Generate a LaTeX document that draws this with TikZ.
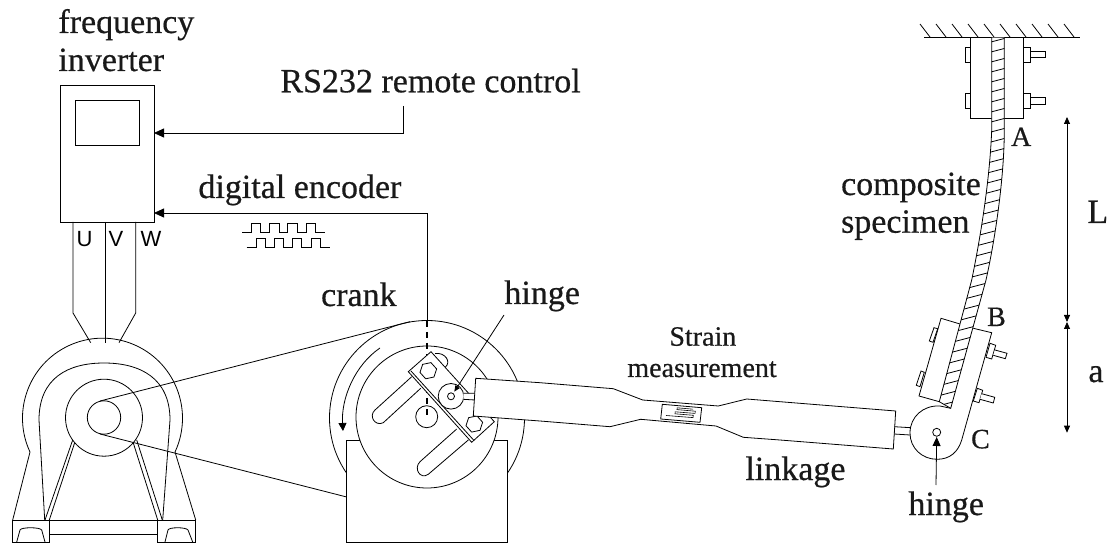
\documentclass[tikz,border=0pt]{standalone}
\usepackage{fontspec}
\setmainfont{Liberation Serif}
\newfontfamily\lblfont{Liberation Serif}[FakeBold=0.5]
\newfontfamily\uvwfont{Liberation Sans}
\usetikzlibrary{arrows.meta,shapes.geometric}

\begin{document}
\begin{tikzpicture}[
    x=1pt,y=-1pt,
    line width=0.8pt,
    >={Triangle[length=10pt,width=9pt]},
    lab/.style={anchor=base west,inner sep=0pt,text=black!90,font=\lblfont\fontsize{34}{34}\selectfont},
    midlab/.style={anchor=base west,inner sep=0pt,text=black!90,font=\lblfont\fontsize{28}{28}\selectfont},
    letter/.style={anchor=base,inner sep=0pt,font=\uvwfont\fontsize{22}{22}\selectfont},
    panel/.style={draw,fill=white,inner sep=0pt,outer sep=0pt},
    hexbolt/.style={draw,fill=white,regular polygon,regular polygon sides=6,inner sep=0pt,minimum size=17pt},
    arr/.style={->,line width=0.8pt},
    smallarr/.style={-{Triangle[length=6pt,width=5pt]},line width=0.8pt},
    part/.style={draw,fill=white}
]
\useasboundingbox (0,0) rectangle (1109,545);

% frequency inverter
\node[panel,minimum width=94pt,minimum height=137pt] (inverter) at (107,153.5) {};
\node[panel,minimum width=64pt,minimum height=45pt] (screen) at (107,122.5) {};
\draw (73,222) -- (73,313) -- (90.7,342.7);
\draw (105,222) -- (105,342.7);
\draw (135.7,222) -- (135.7,313) -- (119,342.7);
\node[letter] (phaseu) at (84.5,246.7) {U};
\node[letter] (phasev) at (116,246.7) {V};
\node[letter] (phasew) at (151,246.7) {W};

% motor
\draw (12.7,520) -- (30,452) arc[start angle=155,end angle=385,radius=80] -- (195.7,520);
\draw (44.7,520) -- (39,420) .. controls (39,378) and (68,363) .. (104,363) .. controls (140,363) and (170,378) .. (170,420) -- (162.7,520);
\draw (72.7,440) -- (45,520);
\draw (75,441.7) -- (49.3,520);
\draw (133.3,443) -- (157.7,520);
\draw (136.7,440) -- (162.3,520);
\draw[part] (104,417.7) circle (38.5);
\draw[part] (104,417.5) circle (16.7);
\draw (12.7,520) rectangle (49.7,542);
\draw (157.7,520) rectangle (195.7,542);
\draw (49.7,520) -- (157.7,520);
\draw (49.7,534) -- (157.7,534);
\draw (16.7,542) -- (20,530) .. controls (21,527) and (40,527) .. (41.7,530) -- (45,542);
\draw (165,542) -- (168,530) .. controls (169,527) and (186,527) .. (188,530) -- (192.7,542);

% belt
\draw (100,401) -- (410,321.7);
\draw (100,434) -- (346.7,497);

% crank
\draw (427,418) circle (97.5);
\draw[part] (346.7,440) rectangle (507.3,542);
\draw[part] (427,417) circle (71);
\draw[part] (411.7,376.7) -- (375,410) .. controls (368.3,416) and (375,426.7) .. (383.3,422.7) -- (420.7,388.3);
\draw[part] (456.7,429) -- (420,461.7) .. controls (413.3,468.3) and (420,480) .. (428.3,474.3) -- (468.3,440);
\draw[part] (426.7,416.7) circle (11);
\draw[dashed,line width=1.2pt,dash pattern=on 6pt off 5pt] (427,321) -- (427,417);
\draw (435,353.5) .. controls (445,352) and (452,362) .. (445,367.5);
\draw[part] (431,351.7) -- (408.3,371.7) -- (471.7,442.3) -- (494.3,421.7) -- cycle;
\draw (411,371) -- (474,440.5);
\node[hexbolt,rotate=12] (bolttop) at (428.3,370.7) {};
\node[hexbolt,rotate=12] (boltlow) at (474.3,424) {};
\draw[part] (451,396.3) circle (12.8);
\draw[part] (451,396.3) circle (3.5);
\draw[part] (463.3,393.3) -- (476,393.3) -- (475,400) -- (463.3,399.3);
\draw[smallarr] (504,315) -- (454.3,391.7);
\draw[->,>={Triangle[length=8pt,width=8pt]},line width=0.8pt] (380,348) .. controls (355,365) and (341,398) .. (343,431);

% linkage
\draw[part] (475.7,378.3) -- (540,382.7) -- (613.3,388.7) -- (642.7,400) -- (718.3,406) -- (746.7,399) -- (780,401.7) -- (895.7,411) -- (893.3,449) -- (780,440) -- (743.3,437.3) -- (716,426) -- (640.7,419.3) -- (610,426.7) -- (540,421) -- (473.3,416) -- cycle;
\draw (662.3,404.3) -- (701.7,407.7) -- (700,422.3) -- (660.7,419) -- cycle;
\draw[line width=0.6pt] (666,415.5) -- (693,417.6) -- (693.3,415.3) -- (675,413.8) -- (675.2,411.8) -- (695,413.4) -- (695.3,411.2) -- (677,409.6) -- (677.2,407.8) -- (693,409.2);

% clevis
\draw[part] (950.7,408.3) -- (940,406) .. controls (923,405) and (910,417) .. (910,433) .. controls (910,448) and (922,459.3) .. (937,459.3) .. controls (950,459.3) and (958,452) .. (961.7,440) -- (991.7,332.7) -- (973.3,328.3);
\draw (894.3,426.7) -- (910.7,427.7);
\draw (894,434) -- (910,435);
\draw[part] (936.7,432.3) circle (4);

% clamp at B
\draw[part] (960,324) -- (941,318.3) -- (919,396) -- (939.3,401.7);
\draw[part] (934,327.7) -- (937.7,328.7) -- (933,342.3) -- (929.3,341) -- cycle;
\draw[part] (921,371) -- (924.3,372.3) -- (920,386.7) -- (916.3,385.3) -- cycle;
\draw[part] (990,343.3) -- (995.7,345.3) -- (991.7,359) -- (986,357.3) -- cycle;
\draw[part] (995,350) -- (1007,353.3) -- (1005.3,358.7) -- (993.3,355.3);
\draw[part] (977.3,388.3) -- (982.7,390.3) -- (979,402.7) -- (973.3,401) -- cycle;
\draw[part] (981.7,393.7) -- (994.7,397.3) -- (993.3,403) -- (980,399.3);

% clamp at A and ceiling
\draw[part] (970.7,37.7) rectangle (1023.3,118.3);
\draw[part] (965,47.3) rectangle (970.7,62);
\draw[part] (965,93.3) rectangle (970.7,108.3);
\draw[part] (1023.3,47.3) rectangle (1030.7,62);
\draw[part] (1023.3,93.3) rectangle (1030.7,108.3);
\draw[part] (1030.7,51.7) rectangle (1045,57.3);
\draw[part] (1030.7,97.7) rectangle (1045,104);
\draw (924,37.7) -- (1080,37.7);
\foreach \x in {0,...,9}
    \draw (920+16*\x,24) -- (930.5+16*\x,37.7);

% specimen
\draw[part] (991.7,37.7) -- (991.7,130) .. controls (990,175) and (982,230) .. (971.7,280) -- (939.3,401.7) -- (950.7,408.3) -- (986,280) .. controls (996,235) and (1004.3,175) .. (1004.3,130) -- (1004.3,37.7);
\begin{scope}
    \clip (991.7,37.7) -- (991.7,130) .. controls (990,175) and (982,230) .. (971.7,280) -- (939.3,401.7) -- (950.7,408.3) -- (986,280) .. controls (996,235) and (1004.3,175) .. (1004.3,130) -- (1004.3,37.7) -- cycle;
    \foreach \y in {30,40,...,430}
        \draw (930,\y+18) -- (1010,\y-3);
\end{scope}

% signal lines
\coordinate (rsfree) at (403,106);
\coordinate (rsend) at (inverter.east |- 0,133);
\draw[arr] (rsfree) |- (rsend);
\coordinate (encfree) at (427,321);
\coordinate (encend) at (inverter.east |- 0,213);
\draw[arr] (encfree) |- (encend);
\draw[line width=0.7pt] (242.3,232) -- (251.7,232) -- (251.7,223) -- (260.7,223) -- (260.7,232) -- (269.3,232) -- (269.3,223) -- (279,223) -- (279,232) -- (287.7,232) -- (287.7,223) -- (297.3,223) -- (297.3,232) -- (306,232) -- (306,223) -- (315.7,223) -- (315.7,232) -- (325,232);
\draw[line width=0.7pt] (246.7,247) -- (256.7,247) -- (256.7,238) -- (265.7,238) -- (265.7,247) -- (274.3,247) -- (274.3,238) -- (283.3,238) -- (283.3,247) -- (292.7,247) -- (292.7,238) -- (301.7,238) -- (301.7,247) -- (311,247) -- (311,238) -- (320.7,238) -- (320.7,247) -- (330,247);

% hinge C pointer
\coordinate (hingefree) at (936,485);
\coordinate (hingeend) at (936.7,437);
\draw[->,>={Triangle[length=9pt,width=8pt]},line width=0.8pt] (hingefree) -- (hingeend);

% dimensions
\coordinate (dimA) at (1067,117);
\coordinate (dimB) at (1067,322);
\coordinate (dimC) at (1067,432.7);
\draw[<->,>={Triangle[length=7pt,width=6pt]},line width=0.8pt] (dimA) -- (dimB);
\draw[<->,>={Triangle[length=7pt,width=6pt]},line width=0.8pt] (dimB) -- (dimC);

% labels
\node[lab] (lblfreq) at (58,33) {frequency};
\node[lab] (lblinv) at (58,71) {inverter};
\node[lab] (lblrs) at (280,92.3) {RS232 remote control};
\node[lab] (lbldig) at (198,198) {digital encoder};
\node[lab] (lblcrank) at (320.7,306) {crank};
\node[lab] (lblhinge) at (504,304) {hinge};
\node[midlab] (lblstrain) at (669,345.7) {Strain};
\node[midlab] (lblmeas) at (627,377) {measurement};
\node[lab] (lbllink) at (745,480) {linkage};
\node[lab] (lblhinb) at (908,515) {hinge};
\node[lab] (lblcomp) at (840.7,195) {composite};
\node[lab] (lblspec) at (840.7,232.7) {specimen};
\node[midlab] (lblA) at (1010.7,146) {A};
\node[midlab] (lblB) at (986.7,326) {B};
\node[midlab] (lblC) at (970.7,448.3) {C};
\node[lab] (lblL) at (1087,223) {L};
\node[lab] (lbla) at (1088,382) {a};

\end{tikzpicture}
\end{document}
